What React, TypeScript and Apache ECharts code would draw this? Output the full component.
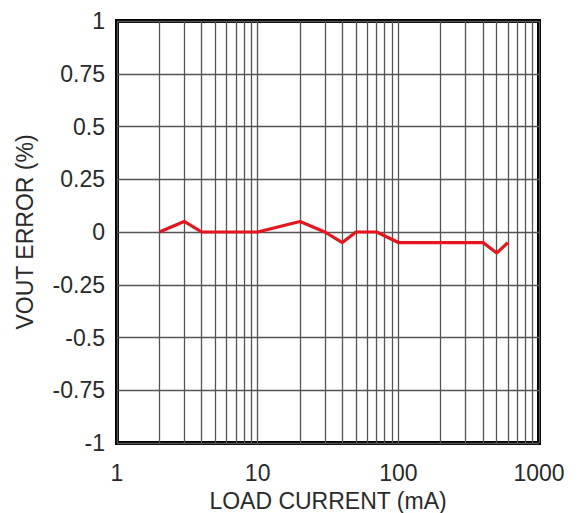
import React, { useEffect, useRef } from "react";
import * as echarts from "echarts";

const loadCurrent = [2, 3, 4, 10, 20, 30, 40, 50, 70, 100, 400, 500, 600];
const voutError = [0, 0.05, 0, 0, 0.05, 0, -0.05, 0, 0, -0.05, -0.05, -0.1, -0.05];
const minorGridValues = [2, 3, 4, 5, 6, 7, 8, 9, 20, 30, 40, 50, 60, 70, 80, 90, 200, 300, 400, 500, 600, 700, 800, 900];
const xTickLabels = ["1", "10", "100", "1000"];
const yTickLabels = ["-1", "-0.75", "-0.5", "-0.25", "0", "0.25", "0.5", "0.75", "1"];

export default function App() {
  const ref = useRef<HTMLDivElement>(null);
  useEffect(() => {
    const chart = echarts.init(ref.current!, null, { renderer: "svg" });
    const font = "Liberation Sans";
    chart.setOption({
      animation: false,
      grid: {
        left: 117,
        right: 40,
        top: 21,
        bottom: 70,
        containLabel: false,
        outerBoundsMode: "none",
        show: true,
        borderColor: "#000",
        borderWidth: 4,
        backgroundColor: "#fff",
      },
      xAxis: {
        type: "log",
        logBase: 10,
        min: 1,
        max: 1000,
        name: "LOAD CURRENT (mA)",
        nameLocation: "middle",
        nameGap: 46,
        nameTextStyle: { fontFamily: font, fontSize: 23, color: "#2a2a2a" },
        axisLine: { show: false },
        axisTick: { show: false },
        axisLabel: {
          fontFamily: font,
          fontSize: 23,
          color: "#2a2a2a",
          margin: 18,
          formatter: (v: number) => {
            const s = String(Math.round(v));
            return xTickLabels.includes(s) ? s : "";
          },
        },
        splitLine: { show: true, lineStyle: { color: "#555", width: 1.3 } },
      },
      yAxis: {
        type: "value",
        min: -1,
        max: 1,
        interval: 0.25,
        name: "VOUT ERROR (%)",
        nameLocation: "middle",
        nameGap: 81,
        nameTextStyle: { fontFamily: font, fontSize: 23, color: "#2a2a2a" },
        axisLine: { show: false },
        axisTick: { show: false },
        axisLabel: {
          fontFamily: font,
          fontSize: 23,
          color: "#2a2a2a",
          margin: 12,
          formatter: (v: number) => {
            const idx = Math.round((v + 1) / 0.25);
            return yTickLabels[idx] ?? "";
          },
        },
        splitLine: { show: true, lineStyle: { color: "#555", width: 1.3 } },
      },
      series: [
        {
          type: "line",
          data: [],
          silent: true,
          markLine: {
            silent: true,
            symbol: "none",
            label: { show: false },
            lineStyle: { color: "#555", width: 1.3, type: "solid" },
            data: minorGridValues.map((v) => ({ xAxis: v })),
          },
        },
        {
          type: "line",
          data: loadCurrent.map((x, i) => [x, voutError[i]]),
          showSymbol: false,
          lineStyle: { color: "#e8141e", width: 3.2 },
          itemStyle: { color: "#e8141e" },
          z: 5,
        },
      ],
    });
    return () => chart.dispose();
  }, []);
  return (
    <div
      ref={ref}
      style={{ position: "fixed", left: 0, top: 0, width: 579, height: 513, background: "#fff" }}
    />
  );
}
